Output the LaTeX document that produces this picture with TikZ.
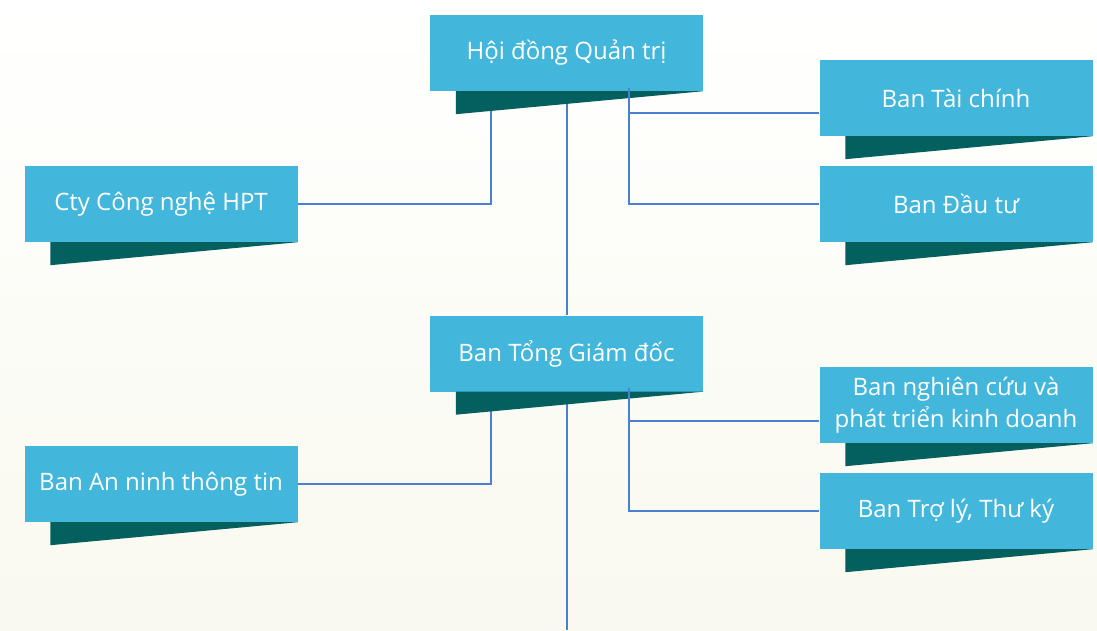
\documentclass[tikz,border=0pt]{standalone}
\usepackage{fontspec}
\setmainfont{Open Sans}
\usetikzlibrary{calc}
\pgfdeclarelayer{bgfill}
\pgfdeclarelayer{background}
\pgfsetlayers{bgfill,background,main}

\definecolor{boxblue}{HTML}{42B6DB}
\definecolor{shadowteal}{HTML}{03605F}
\definecolor{linkblue}{HTML}{4A80D2}
\definecolor{paper}{HTML}{F9F9EF}

\tikzset{
  unitbox/.style={fill=boxblue, text=white, minimum width=273pt, minimum height=76pt,
                  inner sep=0pt, align=center, font=\fontsize{24}{32}\selectfont},
  link/.style={linkblue, line width=2pt}
}

\begin{document}
\begin{tikzpicture}[x=1pt,y=-1pt]
   % Page
   \useasboundingbox (0,0) rectangle (1097,630);

   % Units
   \node[unitbox] (hdqt) at (566.5,53)  {Hội đồng Quản trị};
   \node[unitbox] (tc)   at (956,98)    {Ban Tài chính};
   \node[unitbox] (dt)   at (956,204)   {Ban Đầu tư};
   \node[unitbox] (hpt)  at (161,204)   {Cty Công nghệ HPT};
   \node[unitbox] (tgd)  at (566.5,353.5) {Ban Tổng Giám đốc};
   \node[unitbox] (nc)   at (956,405)   {Ban nghiên cứu và\\phát triển kinh doanh};
   \node[unitbox] (an)   at (161,484)   {Ban An ninh thông tin};
   \node[unitbox] (tl)   at (956,511)   {Ban Trợ lý, Thư ký};

   % Shadows under the boxes
   \foreach \n in {hdqt,tc,dt,hpt,tgd,nc,an,tl}
     \fill[shadowteal] ([xshift=26pt]\n.south west) -- (\n.south east)
        -- ([xshift=26pt,yshift=-23pt]\n.south west) -- cycle;

   % Tie points
   \coordinate (hdqt-r) at (629,88);
   \coordinate (hdqt-l) at (491,105);
   \coordinate (tgd-r)  at (629,388);
   \coordinate (tgd-l)  at (491,405);
   \coordinate (bottom) at (566.5,630);

   \begin{pgfonlayer}{background}
     \draw[link] (hdqt.south) -- (tgd.north);
     \draw[link] (tgd.south) -- (bottom);
     \draw[link] (hdqt-l) |- (hpt.east);
     \draw[link] (tgd-l) |- (an.east);
   \end{pgfonlayer}

   \draw[link] (hdqt-r) |- ([yshift=-15pt]tc.west);
   \draw[link] (hdqt-r) |- (dt.west);
   \draw[link] (tgd-r) |- ([yshift=-16pt]nc.west);
   \draw[link] (tgd-r) |- (tl.west);

   % Paper
   \begin{pgfonlayer}{bgfill}
     \shade[top color=white, bottom color=paper] (0,0) rectangle (1097,630);
   \end{pgfonlayer}
\end{tikzpicture}
\end{document}
